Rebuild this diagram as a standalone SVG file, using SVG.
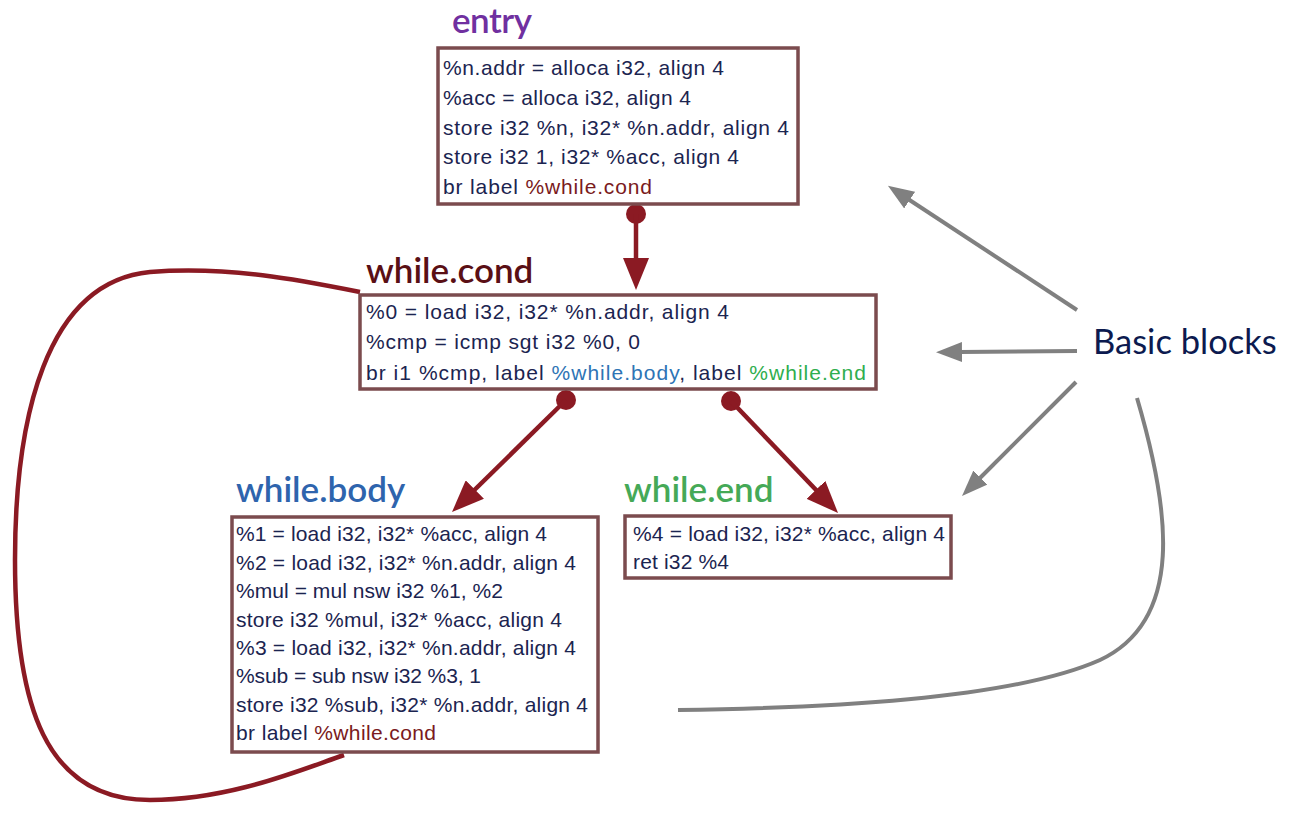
<svg xmlns="http://www.w3.org/2000/svg" width="1290" height="828" viewBox="0 0 1290 828">
<style>
.box{fill:#ffffff;stroke:#7b4b4e;stroke-width:3.5}
.code{font-family:"Liberation Sans",Arial,sans-serif;font-size:21px;fill:#1b2450}
.hdr{font-family:Lato,"Liberation Sans",sans-serif;font-size:35px;font-weight:600}
.red{stroke:#8b1a23;stroke-width:4.5;fill:none}
.gray{stroke:#808080;stroke-width:4;fill:none}
.dot{fill:#8b1a23}
.lc{fill:#7a1a20}
.lb{fill:#2e74b5}
.le{fill:#2fae4e}
</style>
<defs>
<marker id="ahr" viewBox="0 0 32 26" refX="2" refY="13" markerWidth="32" markerHeight="26" markerUnits="userSpaceOnUse" orient="auto"><path d="M0,0 L32,13 L0,26 z" fill="#8b1a23"/></marker>
<marker id="ahg" viewBox="0 0 26 20" refX="2" refY="10" markerWidth="26" markerHeight="20" markerUnits="userSpaceOnUse" orient="auto"><path d="M0,0 L26,10 L0,20 z" fill="#808080"/></marker>
</defs>
<rect width="1290" height="828" fill="#ffffff"/>

<g id="connectors">
<path class="red" d="M360,292 C300,280 230,266 150,272 C45,282 15,420 15,560 C15,705 45,800 150,800 C230,800 300,770 344,755"/>
<circle class="dot" cx="636" cy="214" r="10"/>
<line class="red" x1="636" y1="214" x2="636" y2="260" marker-end="url(#ahr)"/>
<circle class="dot" cx="566" cy="400" r="10"/>
<line class="red" x1="566" y1="400" x2="473.4" y2="491" marker-end="url(#ahr)"/>
<circle class="dot" cx="731" cy="401" r="10"/>
<line class="red" x1="731" y1="401" x2="817.3" y2="491.3" marker-end="url(#ahr)"/>
<line class="gray" x1="1077" y1="310" x2="908" y2="199" marker-end="url(#ahg)"/>
<line class="gray" x1="1077" y1="351" x2="960" y2="352" marker-end="url(#ahg)"/>
<line class="gray" x1="1076" y1="382" x2="979" y2="479" marker-end="url(#ahg)"/>
<path class="gray" d="M1137,398 C1170,510 1185,620 1100,660 C1010,700 820,708 678,710"/>
</g>

<g id="entry">
<text class="hdr" x="452" y="33" font-size="33" textLength="80" fill="#7030a0">entry</text>
<rect class="box" x="438" y="48" width="360" height="156"/>
<text class="code" x="443" y="75" textLength="281">%n.addr = alloca i32, align 4</text>
<text class="code" x="443" y="105" textLength="248">%acc = alloca i32, align 4</text>
<text class="code" x="443" y="135" textLength="346">store i32 %n, i32* %n.addr, align 4</text>
<text class="code" x="443" y="164" textLength="296">store i32 1, i32* %acc, align 4</text>
<text class="code" x="443" y="194" textLength="209">br label <tspan class="lc">%while.cond</tspan></text>
</g>

<g id="while_cond">
<text class="hdr" x="366" y="283" fill="#5a0f15">while.cond</text>
<rect class="box" x="360" y="295" width="516" height="94"/>
<text class="code" x="366" y="319" textLength="363">%0 = load i32, i32* %n.addr, align 4</text>
<text class="code" x="366" y="349" textLength="274">%cmp = icmp sgt i32 %0, 0</text>
<text class="code" x="366" y="380" textLength="500">br i1 %cmp, label <tspan class="lb">%while.body</tspan>, label <tspan class="le">%while.end</tspan></text>
</g>

<g id="while_body">
<text class="hdr" x="236" y="502" fill="#2e64ad">while.body</text>
<rect class="box" x="232" y="517" width="366" height="235"/>
<text class="code" x="236" y="541" textLength="311">%1 = load i32, i32* %acc, align 4</text>
<text class="code" x="236" y="570" textLength="340">%2 = load i32, i32* %n.addr, align 4</text>
<text class="code" x="236" y="598" textLength="267">%mul = mul nsw i32 %1, %2</text>
<text class="code" x="236" y="627" textLength="326">store i32 %mul, i32* %acc, align 4</text>
<text class="code" x="236" y="655" textLength="340">%3 = load i32, i32* %n.addr, align 4</text>
<text class="code" x="236" y="683" textLength="245">%sub = sub nsw i32 %3, 1</text>
<text class="code" x="236" y="712" textLength="352">store i32 %sub, i32* %n.addr, align 4</text>
<text class="code" x="236" y="740" textLength="200">br label <tspan class="lc">%while.cond</tspan></text>
</g>

<g id="while_end">
<text class="hdr" x="624" y="502" fill="#45a957">while.end</text>
<rect class="box" x="625" y="516" width="326" height="62"/>
<text class="code" x="633" y="541" textLength="312">%4 = load i32, i32* %acc, align 4</text>
<text class="code" x="633" y="569" textLength="96">ret i32 %4</text>
</g>

<g id="basic_blocks">
<text x="1093" y="354" font-family="Lato,'Liberation Sans',sans-serif" font-size="34.5" fill="#0c1a4f">Basic blocks</text>
</g>
</svg>
